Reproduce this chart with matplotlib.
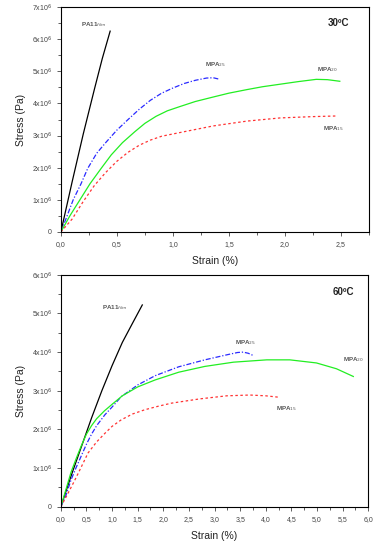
import matplotlib
matplotlib.use("Agg")
import matplotlib.pyplot as plt
from matplotlib.ticker import MultipleLocator, FuncFormatter

plt.rcParams['font.family'] = ['Liberation Sans', 'DejaVu Sans']

# 30 C curves (strain %, stress in 1e6 Pa)
pa11_30_x = [0, 0.10, 0.20, 0.30, 0.37, 0.44]
pa11_30_y = [0, 1.55, 3.05, 4.45, 5.4, 6.25]
mpa25_30_x = [0, 0.05, 0.11, 0.18, 0.24, 0.32, 0.40, 0.50, 0.60, 0.70, 0.80, 0.90, 1.00, 1.10, 1.20, 1.30, 1.36, 1.42]
mpa25_30_y = [0, 0.45, 1.0, 1.5, 1.98, 2.45, 2.78, 3.17, 3.5, 3.82, 4.1, 4.32, 4.48, 4.62, 4.72, 4.79, 4.8, 4.75]
mpa20_30_x = [0, 0.08, 0.17, 0.26, 0.36, 0.45, 0.55, 0.66, 0.75, 0.85, 0.95, 1.06, 1.20, 1.36, 1.50,
              1.66, 1.80, 1.96, 2.12, 2.28, 2.38, 2.49]
mpa20_30_y = [0, 0.5, 1.0, 1.5, 1.98, 2.4, 2.78, 3.12, 3.38, 3.6, 3.77, 3.9, 4.06, 4.2, 4.32,
              4.43, 4.52, 4.6, 4.68, 4.75, 4.74, 4.69]
mpa15_30_x = [0, 0.10, 0.20, 0.30, 0.40, 0.50, 0.60, 0.70, 0.80, 0.90, 1.00, 1.10, 1.36, 1.66, 1.96, 2.25, 2.46]
mpa15_30_y = [0, 0.4, 0.95, 1.45, 1.85, 2.2, 2.48, 2.7, 2.86, 2.98, 3.05, 3.12, 3.3, 3.45, 3.55, 3.59, 3.61]

# 60 C curves
pa11_60_x = [0, 0.20, 0.40, 0.60, 0.80, 1.00, 1.20, 1.40, 1.59]
pa11_60_y = [0, 0.8, 1.55, 2.3, 3.0, 3.65, 4.25, 4.75, 5.22]
mpa25_60_x = [0, 0.10, 0.20, 0.30, 0.40, 0.50, 0.60, 0.70, 0.86, 1.00, 1.18, 1.50, 1.84, 2.30, 2.81,
              3.24, 3.45, 3.56, 3.66, 3.76]
mpa25_60_y = [0, 0.3, 0.7, 1.02, 1.32, 1.62, 1.88, 2.1, 2.38, 2.58, 2.85, 3.15, 3.39, 3.62, 3.8,
              3.93, 3.99, 4.0, 3.97, 3.91]
mpa20_60_x = [0, 0.10, 0.20, 0.30, 0.40, 0.50, 0.60, 0.70, 0.85, 1.00, 1.20, 1.50, 1.84, 2.30, 2.81,
              3.37, 4.02, 4.47, 4.99, 5.38, 5.71]
mpa20_60_y = [0, 0.45, 0.9, 1.25, 1.58, 1.88, 2.1, 2.28, 2.48, 2.65, 2.87, 3.1, 3.28, 3.48, 3.63,
              3.74, 3.8, 3.8, 3.72, 3.57, 3.37]
mpa15_60_x = [0, 0.14, 0.25, 0.34, 0.45, 0.53, 0.70, 0.86, 1.00, 1.18, 1.40, 1.64, 1.90, 2.16, 2.71,
              3.24, 3.69, 4.00, 4.28]
mpa15_60_y = [0, 0.35, 0.63, 0.87, 1.17, 1.39, 1.68, 1.9, 2.08, 2.25, 2.4, 2.51, 2.6, 2.68, 2.79,
              2.87, 2.89, 2.87, 2.83]


def comma_fmt(v, pos):
    return f"{v:.1f}".replace(".", ",")


def sci_fmt(v, pos):
    n = int(round(v / 1e6))
    if n == 0:
        return "0"
    return f"{n}x10$^{{6}}$"


def style_axis(ax, xmax, ymax):
    ax.set_xlim(0, xmax)
    ax.set_ylim(0, ymax)
    ax.xaxis.set_major_locator(MultipleLocator(0.5))
    ax.xaxis.set_minor_locator(MultipleLocator(0.25))
    ax.yaxis.set_major_locator(MultipleLocator(1e6))
    ax.yaxis.set_minor_locator(MultipleLocator(0.5e6))
    ax.xaxis.set_major_formatter(FuncFormatter(comma_fmt))
    ax.yaxis.set_major_formatter(FuncFormatter(sci_fmt))
    ax.tick_params(which='both', direction='out', labelsize=5, colors='#444444', width=0.6)
    ax.tick_params(which='major', length=3)
    ax.tick_params(which='minor', length=2)
    for s in ax.spines.values():
        s.set_linewidth(0.8)
    ax.set_xlabel("Strain (%)", fontsize=7.5, color='#222222', labelpad=6)
    ax.set_ylabel("Stress (Pa)", fontsize=7.5, color='#222222', labelpad=4)


def m(vals):
    return [v * 1e6 for v in vals]


fig = plt.figure(figsize=(3.78, 5.42), dpi=100)
ax1 = fig.add_axes([0.161, 0.572, 0.815, 0.415])
ax2 = fig.add_axes([0.161, 0.065, 0.813, 0.428])

lw = 0.9
dashdot = (0, (4, 1.5, 1, 1.5))
dashed = (0, (2, 2))
lab = dict(fontsize=4.5, color='#555555', fontweight='bold')

# top panel: 30 C
ax1.plot(pa11_30_x, m(pa11_30_y), color='black', lw=lw)
ax1.plot(mpa25_30_x, m(mpa25_30_y), color='#2a2aff', lw=lw, ls=dashdot)
ax1.plot(mpa20_30_x, m(mpa20_30_y), color='#22ee22', lw=lw)
ax1.plot(mpa15_30_x, m(mpa15_30_y), color='#ff3333', lw=lw, ls=dashed)
style_axis(ax1, 2.75, 7e6)
ax1.text(0.18, 6.45e6, "PA11$_{film}$", ha='left', va='center', **lab)
ax1.text(1.29, 5.2e6, "MPA$_{25}$", ha='left', va='center', **lab)
ax1.text(2.29, 5.05e6, "MPA$_{20}$", ha='left', va='center', **lab)
ax1.text(2.34, 3.22e6, "MPA$_{15}$", ha='left', va='center', **lab)
ax1.text(2.38, 6.5e6, "30ºC", ha='left', va='center', fontsize=7, color='#222222', fontweight='bold')

# bottom panel: 60 C
ax2.plot(pa11_60_x, m(pa11_60_y), color='black', lw=lw)
ax2.plot(mpa25_60_x, m(mpa25_60_y), color='#2a2aff', lw=lw, ls=dashdot)
ax2.plot(mpa20_60_x, m(mpa20_60_y), color='#22ee22', lw=lw)
ax2.plot(mpa15_60_x, m(mpa15_60_y), color='#ff3333', lw=lw, ls=dashed)
style_axis(ax2, 6.0, 6e6)
ax2.text(0.8, 5.14e6, "PA11$_{film}$", ha='left', va='center', **lab)
ax2.text(3.4, 4.25e6, "MPA$_{25}$", ha='left', va='center', **lab)
ax2.text(5.51, 3.82e6, "MPA$_{20}$", ha='left', va='center', **lab)
ax2.text(4.21, 2.55e6, "MPA$_{15}$", ha='left', va='center', **lab)
ax2.text(5.3, 5.56e6, "60ºC", ha='left', va='center', fontsize=7, color='#222222', fontweight='bold')

fig.savefig("out.png", dpi=100)
